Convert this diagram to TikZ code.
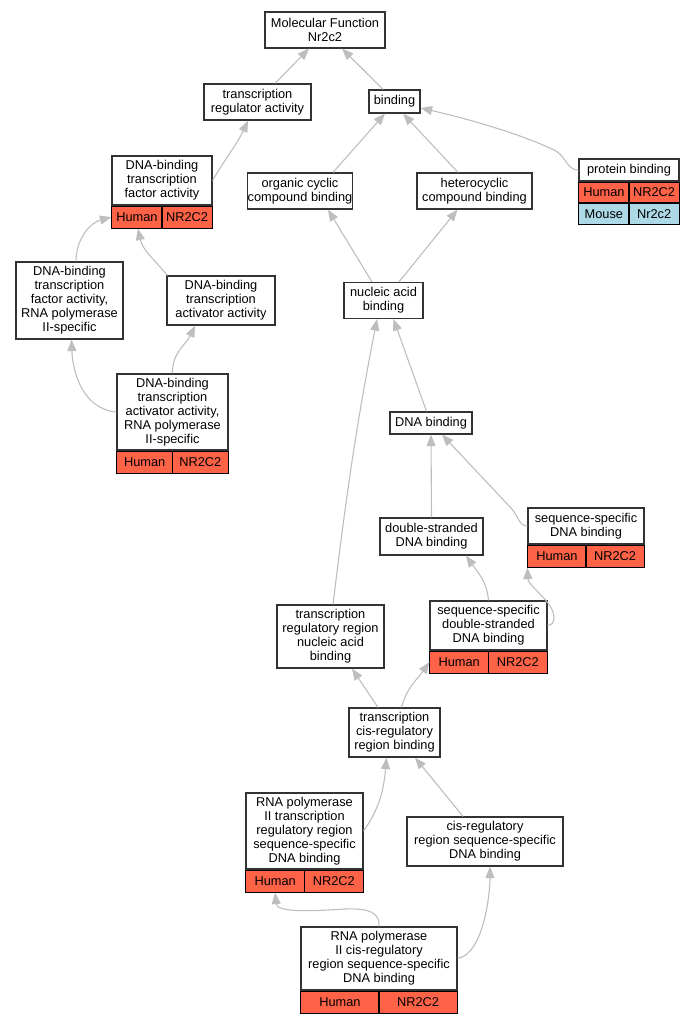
\documentclass[tikz,border=0pt]{standalone}
\usepackage{fontspec}
\setmainfont{Liberation Sans}
\usetikzlibrary{arrows.meta}
\usetikzlibrary{positioning}
\definecolor{humanred}{HTML}{FF6347}
\definecolor{mouseblue}{HTML}{ADD8E6}
\definecolor{linkgray}{HTML}{BEBEBE}

\begin{document}
\begin{tikzpicture}[x=1pt, y=-1pt, >={Triangle[length=11.5pt,width=9pt]},
    term/.style = {draw=black!80, line width=1.2pt, fill=white, inner sep=0pt, align=center, font=\fontsize{12.8}{14}\selectfont},
    cell/.style = {draw=black, line width=1pt, inner sep=0pt, minimum height=22pt, font=\fontsize{12.8}{14}\selectfont},
    humancell/.style = {cell, fill=humanred},
    mousecell/.style = {cell, fill=mouseblue},
    isa/.style = {->, draw=linkgray, line width=1.1pt}]
    \useasboundingbox (0,0) rectangle (693,1021);
    % Nodes

    \node[term, minimum width=120pt, minimum height=36pt] (mf) at (325,30) {Molecular Function\\Nr2c2};
    \node[term, minimum width=107pt, minimum height=36pt] (tra) at (257.5,102) {transcription\\regulator activity};
    \node[term, minimum width=51pt, minimum height=23pt] (bind) at (394.5,101.5) {binding};

    \node[term, minimum width=100pt, minimum height=49pt] (dbtf) at (162,180.5) {DNA-binding\\transcription\\factor activity};
    \node[humancell, minimum width=50pt, below right=0pt of dbtf.south west] (dbtfH) {Human};
    \node[humancell, minimum width=50pt, below left=0pt of dbtf.south east] (dbtfG) {NR2C2};

    \node[term, minimum width=86pt, minimum height=36pt] (occb) at (300,191) {organic cyclic\\compound binding};
    \node[term, minimum width=115pt, minimum height=36pt] (hccb) at (474.5,191) {heterocyclic\\compound binding};

    \node[term, minimum width=100pt, minimum height=22pt] (pb) at (629,170) {protein binding};
    \node[humancell, minimum width=50pt, minimum height=20.5pt, below right=0pt of pb.south west] (pbH) {Human};
    \node[humancell, minimum width=50pt, minimum height=20.5pt, below left=0pt of pb.south east] (pbHG) {NR2C2};
    \node[mousecell, minimum width=50pt, minimum height=21pt, below right=0pt of pbH.south west] (pbM) {Mouse};
    \node[mousecell, minimum width=50pt, minimum height=21pt, below left=0pt of pbHG.south east] (pbMG) {Nr2c2};

    \node[term, minimum width=107pt, minimum height=77pt] (dbtfp) at (69.5,300.5) {DNA-binding\\transcription\\factor activity,\\RNA polymerase\\II-specific};
    \node[term, minimum width=108pt, minimum height=49pt] (dbta) at (221,300.5) {DNA-binding\\transcription\\activator activity};
    \node[term, minimum width=79pt, minimum height=36pt] (nab) at (383.5,300.5) {nucleic acid\\binding};

    \node[term, minimum width=111pt, minimum height=76pt] (dbtap) at (172.5,412) {DNA-binding\\transcription\\activator activity,\\RNA polymerase\\II-specific};
    \node[humancell, minimum width=55.5pt, below right=0pt of dbtap.south west] (dbtapH) {Human};
    \node[humancell, minimum width=55.5pt, below left=0pt of dbtap.south east] (dbtapG) {NR2C2};

    \node[term, minimum width=82pt, minimum height=22pt] (dnab) at (431,423) {DNA binding};
    \node[term, minimum width=103pt, minimum height=37pt] (dsdb) at (431.5,536.5) {double-stranded\\DNA binding};

    \node[term, minimum width=116pt, minimum height=36pt] (ssdb) at (586,526) {sequence-specific\\DNA binding};
    \node[humancell, minimum width=58pt, below right=0pt of ssdb.south west] (ssdbH) {Human};
    \node[humancell, minimum width=58pt, below left=0pt of ssdb.south east] (ssdbG) {NR2C2};

    \node[term, minimum width=107pt, minimum height=63pt] (trnab) at (330.5,636.5) {transcription\\regulatory region\\nucleic acid\\binding};

    \node[term, minimum width=117pt, minimum height=49pt] (ssds) at (488.5,625.5) {sequence-specific\\double-stranded\\DNA binding};
    \node[humancell, minimum width=58.5pt, below right=0pt of ssds.south west] (ssdsH) {Human};
    \node[humancell, minimum width=58.5pt, below left=0pt of ssds.south east] (ssdsG) {NR2C2};

    \node[term, minimum width=91pt, minimum height=49pt] (tcrb) at (394.5,732.5) {transcription\\cis-regulatory\\region binding};

    \node[term, minimum width=117pt, minimum height=76pt] (rnap) at (304.5,831) {RNA polymerase\\II transcription\\regulatory region\\sequence-specific\\DNA binding};
    \node[humancell, minimum width=58.5pt, below right=0pt of rnap.south west] (rnapH) {Human};
    \node[humancell, minimum width=58.5pt, below left=0pt of rnap.south east] (rnapG) {NR2C2};

    \node[term, minimum width=156pt, minimum height=49pt] (crss) at (485,841.5) {cis-regulatory\\region sequence-specific\\DNA binding};

    \node[term, minimum width=156pt, minimum height=63pt] (rncr) at (379,958.5) {RNA polymerase\\II cis-regulatory\\region sequence-specific\\DNA binding};
    \node[humancell, minimum width=78pt, below right=0pt of rncr.south west] (rncrH) {Human};
    \node[humancell, minimum width=78pt, below left=0pt of rncr.south east] (rncrG) {NR2C2};

    % Edges
    \draw[isa] ([xshift=17.5pt]tra.north) -- ([xshift=-16pt]mf.south);
    \draw[isa] ([xshift=-11.5pt]bind.north) -- ([xshift=17pt]mf.south);
    \draw[isa] (dbtf.east) to[out=60, in=-115] ([xshift=-9.5pt]tra.south);
    \draw[isa] ([xshift=33pt]occb.north) -- ([xshift=-9.5pt]bind.south);
    \draw[isa] ([xshift=-16.5pt]hccb.north) -- ([xshift=8.5pt]bind.south);
    \draw[isa] (pb.west) .. controls (567,170) and (566,157) .. (556,151) .. controls (520,133) and (460,117) .. ([yshift=-6.5pt]bind.east);

    \draw[isa] ([xshift=-11.5pt]nab.north) -- ([xshift=28pt]occb.south);
    \draw[isa] ([xshift=15.5pt]nab.north) -- ([xshift=-17pt]hccb.south);
    \draw[isa] ([xshift=6.5pt]dbtfp.north) to[out=90, in=195] (dbtfH.west);
    \draw[isa] ([xshift=1pt]dbta.north west) to[out=130, in=-78] ([xshift=1pt]dbtfH.south);
    \draw[isa] (dbtap.west) to[out=175, in=-88] ([xshift=2pt]dbtfp.south);
    \draw[isa] (dbtap.north) to[out=92, in=-115] ([xshift=-26pt]dbta.south);

    \draw[isa] ([xshift=-4.5pt]dnab.north) -- ([xshift=10pt]nab.south);
    \draw[isa] (dsdb.north) -- (dnab.south);
    \draw[isa] (ssdb.west) .. controls (519,526) and (519,517) .. (511,508) -- ([xshift=11pt]dnab.south);
    \draw[isa] ([xshift=2.5pt]trnab.north) to[out=83, in=-101] ([xshift=-6.5pt]nab.south);
    \draw[isa] (ssds.north) to[out=95, in=-55] ([xshift=34.5pt]dsdb.south);
    \draw[isa] (ssds.east) .. controls (556,625) and (556,613) .. (548,603) .. controls (538,591) and (528,583) .. (ssdbH.south west);

    \draw[isa] ([xshift=-16.5pt]tcrb.north) -- ([xshift=21.5pt]trnab.south);
    \draw[isa] ([xshift=7pt]tcrb.north) to[out=75, in=-125] (ssdsH.west);
    \draw[isa] (rnap.east) to[out=55, in=-95] ([xshift=-8pt]tcrb.south);
    \draw[isa] ([xshift=-22pt]crss.north) -- ([xshift=20.5pt]tcrb.south);
    \draw[isa] (rncr.north) .. controls (380,913) and (370,908) .. (345,909) .. controls (315,911) and (277,913) .. (rnapH.south);
    \draw[isa] (rncr.east) to[out=10, in=-90, looseness=0.7] ([xshift=5pt]crss.south);

\end{tikzpicture}
\end{document}
